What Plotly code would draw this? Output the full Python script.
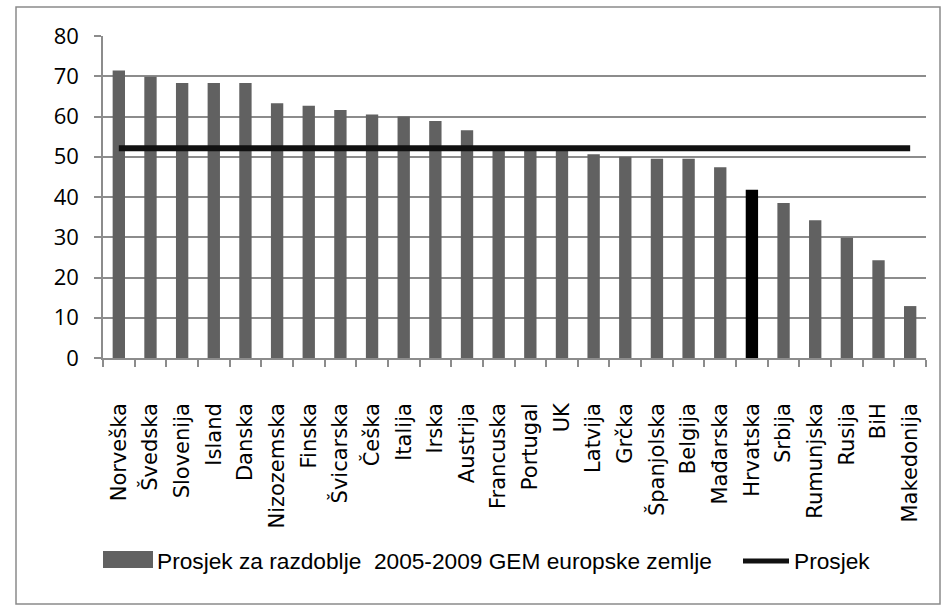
"""GEM europske zemlje 2005-2009: stupci po zemljama i linija prosjeka."""

import plotly.graph_objects as go

COUNTRIES = [
    "Norveška", "Švedska", "Slovenija", "Island", "Danska", "Nizozemska",
    "Finska", "Švicarska", "Češka", "Italija", "Irska", "Austrija",
    "Francuska", "Portugal", "UK", "Latvija", "Grčka", "Španjolska",
    "Belgija", "Mađarska", "Hrvatska", "Srbija", "Rumunjska", "Rusija",
    "BiH", "Makedonija",
]
GEM_VALUES = [
    71.4, 69.9, 68.3, 68.3, 68.3, 63.3,
    62.7, 61.6, 60.5, 60.0, 58.9, 56.6,
    52.4, 52.3, 51.8, 50.6, 50.0, 49.5,
    49.5, 47.4, 41.8, 38.5, 34.2, 29.9,
    24.3, 12.9,
]
AVERAGE = 52.1
HIGHLIGHT = "Hrvatska"
BAR_LABEL = "Prosjek za razdoblje  2005-2009 GEM europske zemlje"
LINE_LABEL = "Prosjek"

BAR_GREY = "#616161"
GRID_GREY = "#8c8c8c"
LEGEND_FONT = dict(family="Liberation Sans, sans-serif", size=22.7, color="#000000")

# pixel geometry of the plot area inside the 942x606 page
W, H = 942, 606
L, R, T, B = 103, 16, 36, 248
PW, PH = W - L - R, H - T - B


def px_x(x):
    return (x - L) / PW


def px_y(y):
    return (H - B - y) / PH


bar_colors = ["#000000" if c == HIGHLIGHT else BAR_GREY for c in COUNTRIES]

fig = go.Figure()
fig.add_trace(go.Bar(
    x=COUNTRIES, y=GEM_VALUES,
    marker=dict(color=bar_colors, line=dict(width=0)),
    name=BAR_LABEL, showlegend=False,
))
fig.add_trace(go.Scatter(
    x=COUNTRIES, y=[AVERAGE] * len(COUNTRIES),
    mode="lines",
    line=dict(color="#111111", width=6),
    name=LINE_LABEL, showlegend=False,
))

# outer chart frame
fig.add_shape(
    type="rect", xref="paper", yref="paper",
    x0=px_x(16), x1=px_x(940), y0=px_y(604), y1=px_y(7),
    line=dict(color="#8a8a8a", width=1.5), layer="below",
)

# legend drawn Excel-style: wide grey swatch and a thick line key
fig.add_shape(
    type="rect", xref="paper", yref="paper",
    x0=px_x(103), x1=px_x(153), y0=px_y(568), y1=px_y(551),
    fillcolor=BAR_GREY, line=dict(width=0),
)
fig.add_annotation(
    text=BAR_LABEL, xref="paper", yref="paper",
    x=px_x(155), y=px_y(561), xanchor="left", yanchor="middle",
    showarrow=False, font=LEGEND_FONT,
)
fig.add_shape(
    type="line", xref="paper", yref="paper",
    x0=px_x(743), x1=px_x(789), y0=px_y(561), y1=px_y(561),
    line=dict(color="#111111", width=5),
)
fig.add_annotation(
    text=LINE_LABEL, xref="paper", yref="paper",
    x=px_x(792), y=px_y(561), xanchor="left", yanchor="middle",
    showarrow=False, font=LEGEND_FONT,
)

fig.update_layout(
    width=W, height=H,
    margin=dict(l=L, r=R, t=T, b=B, autoexpand=False),
    paper_bgcolor="white", plot_bgcolor="white",
    bargap=0.61,
    showlegend=False,
    xaxis=dict(
        tickangle=-90,
        tickfont=dict(family="DejaVu Sans", size=21, color="#000000"),
        ticks="outside", tickson="boundaries", ticklen=7,
        tickcolor=GRID_GREY, tickwidth=1.5,
        showline=True, linecolor=GRID_GREY, linewidth=1.5,
        ticklabelstandoff=35,
        showgrid=False, automargin=False,
    ),
    yaxis=dict(
        range=[0, 80], dtick=10,
        tickfont=dict(family="Open Sans", size=22, color="#000000"),
        ticks="outside", ticklen=7, tickcolor=GRID_GREY, tickwidth=1.5,
        showgrid=True, gridcolor=GRID_GREY, gridwidth=1.5,
        showline=True, linecolor=GRID_GREY, linewidth=1.5,
        zeroline=False, automargin=False,
        ticklabelstandoff=11,
    ),
)

# the page body has a default 8px margin; drop it so the figure sits at (0, 0)
fig.write_html(
    "out.html",
    config={"displayModeBar": False},
    post_script="document.body.style.margin = '0';",
)
